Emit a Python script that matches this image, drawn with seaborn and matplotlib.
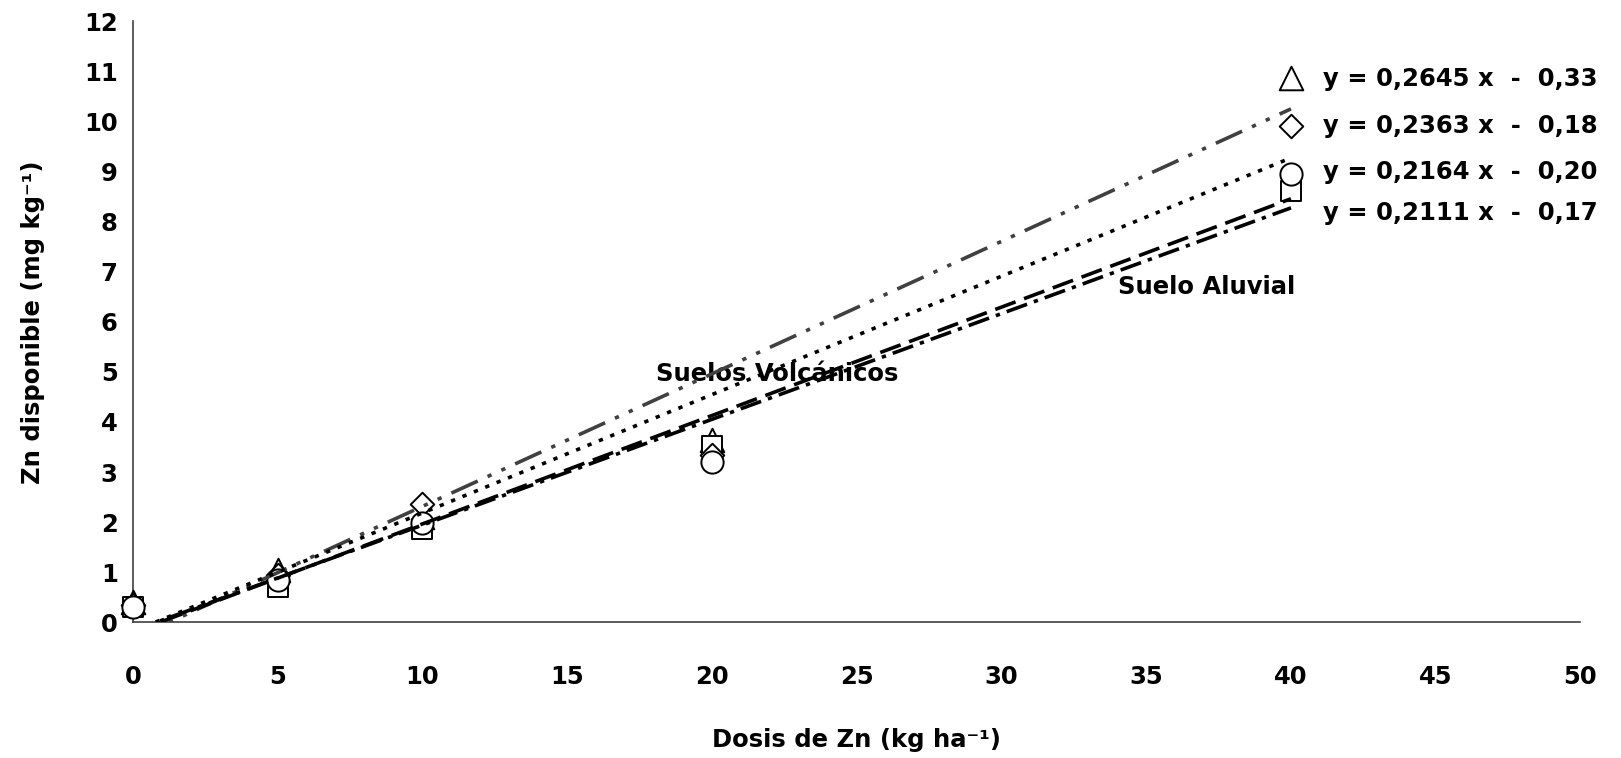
import numpy as np
import pandas as pd
import matplotlib
matplotlib.use("Agg")
import matplotlib.pyplot as plt
import seaborn as sns

# Zn doses (kg/ha) and available Zn (mg/kg) for each soil
dosis = [0, 5, 10, 20, 40]
suelo_tri = [0.40, 1.05, 2.10, 3.63, 10.87]
suelo_dia = [0.35, 0.95, 2.37, 3.35, 9.90]
suelo_cir = [0.30, 0.85, 1.98, 3.21, 8.95]
suelo_sq = [0.30, 0.70, 1.86, 3.51, 8.62]

# fitted linear trends (slope, intercept)
pendientes = [0.2645, 0.2363, 0.2164, 0.2111]
interceptos = [-0.33, -0.18, -0.20, -0.17]
ecuaciones = ["y = 0,2645 x  -  0,33", "y = 0,2363 x  -  0,18",
              "y = 0,2164 x  -  0,20", "y = 0,2111 x  -  0,17"]

x_ticks = list(range(0, 51, 5))
y_ticks = list(range(0, 13))

sns.set_style("white")
plt.rcParams['font.family'] = ['DejaVu Sans']
plt.rcParams['font.weight'] = 'bold'
for key in ["text.color", "axes.labelcolor", "xtick.labelcolor", "ytick.labelcolor"]:
    plt.rcParams[key] = "black"

FS = 17.5

fig = plt.figure(figsize=(16.21, 7.58), dpi=100)
ax = fig.add_axes([0.082, 0.179, 0.893, 0.793])

series = [
    (suelo_tri, "^", 17),
    (suelo_sq, "s", 15),
    (suelo_dia, "D", 12),
    (suelo_cir, "o", 16),
]
for vals, mk, ms in series:
    df = pd.DataFrame({"x": dosis, "y": vals})
    sns.scatterplot(data=df, x="x", y="y", marker=mk, s=ms ** 2,
                    facecolor="white", edgecolor="black", linewidth=1.4,
                    ax=ax, zorder=3, clip_on=False)

styles = [
    ("#404040", (0, (8, 3, 1.2, 3, 1.2, 3))),
    ("black", (0, (1.2, 2.2))),
    ("black", (0, (6, 2.5))),
    ("black", (0, (6, 2, 1.2, 2))),
]
xl = np.array([0.0, 40.0])
for (m, b), (col, ls) in zip(zip(pendientes, interceptos), styles):
    df = pd.DataFrame({"x": xl, "y": m * xl + b})
    sns.lineplot(data=df, x="x", y="y", color=col, linestyle=ls,
                 linewidth=2.6, ax=ax, zorder=4)

for txt, yy in zip(ecuaciones, [10.85, 9.9, 8.99, 8.18]):
    ax.text(41.1, yy, txt, fontsize=FS, fontweight="bold",
            ha="left", va="center", clip_on=False)

ax.text(22.25, 4.95, "Suelos Volcánicos", fontsize=FS, fontweight="bold",
        ha="center", va="center")
ax.text(37.1, 6.7, "Suelo Aluvial", fontsize=FS, fontweight="bold",
        ha="center", va="center")

ax.set_xlim(0, 50)
ax.set_ylim(0, 12)
ax.set_xticks(x_ticks)
ax.set_yticks(y_ticks)
ax.tick_params(axis="both", labelsize=FS, length=7, width=1.2,
               direction="out", color="#404040", pad=4)
ax.tick_params(axis="x", pad=24)
for lab in ax.get_xticklabels() + ax.get_yticklabels():
    lab.set_fontweight("bold")

for s in ["top", "right"]:
    ax.spines[s].set_visible(False)
for s in ["left", "bottom"]:
    ax.spines[s].set_color("#404040")
    ax.spines[s].set_linewidth(1.2)

ax.set_xlabel("Dosis de Zn (kg ha\u207b\u00b9)", fontsize=FS,
              fontweight="bold", labelpad=28)
ax.set_ylabel("Zn disponible (mg kg\u207b\u00b9)", fontsize=FS,
              fontweight="bold", labelpad=28)

fig.savefig("out.png", dpi=100)
